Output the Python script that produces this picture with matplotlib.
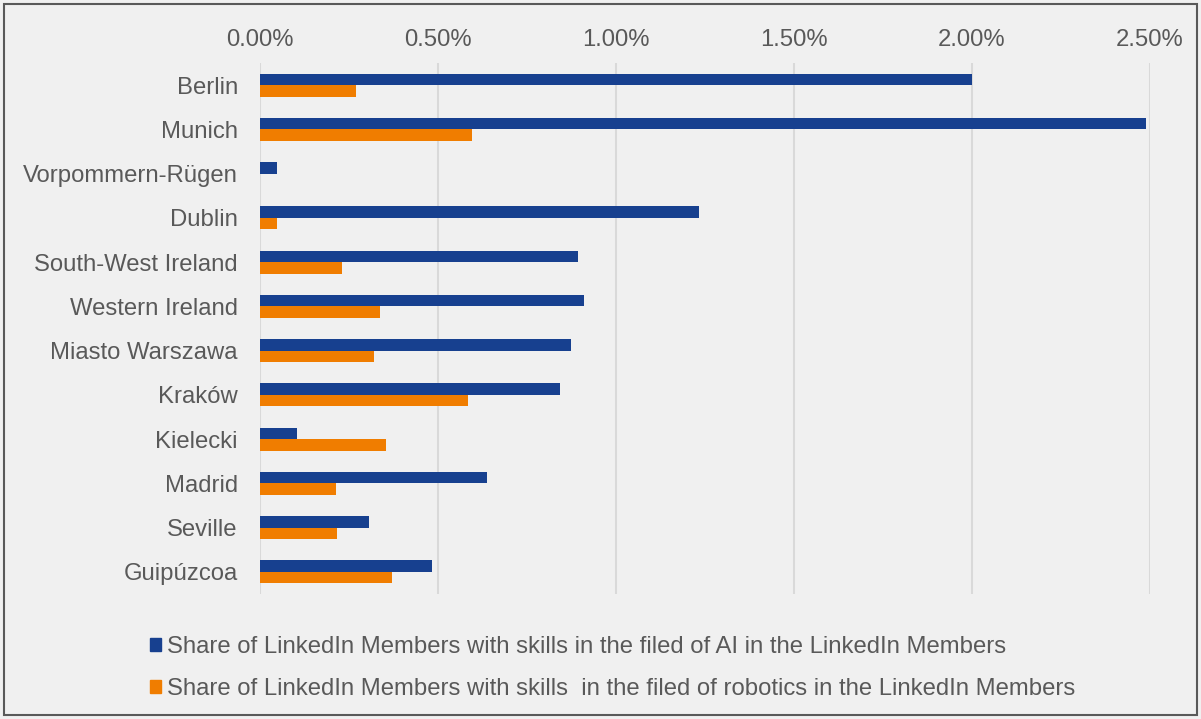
import matplotlib.pyplot as plt
import matplotlib.patches as mpatches
from matplotlib.ticker import FuncFormatter
import numpy as np

plt.rcParams['font.family'] = ['Liberation Sans', 'DejaVu Sans']

regions = ['Berlin', 'Munich', 'Vorpommern-Rügen', 'Dublin', 'South-West Ireland',
           'Western Ireland', 'Miasto Warszawa', 'Kraków', 'Kielecki', 'Madrid',
           'Seville', 'Guipúzcoa']
ai_share = [2.00, 2.49, 0.048, 1.233, 0.893, 0.91, 0.874, 0.843, 0.104, 0.638, 0.306, 0.483]
robotics_share = [0.27, 0.595, 0.0, 0.048, 0.23, 0.337, 0.32, 0.584, 0.354, 0.213, 0.216, 0.371]
ticks = [0.0, 0.5, 1.0, 1.5, 2.0, 2.5]

label_ai = 'Share of LinkedIn Members with skills in the filed of AI in the LinkedIn Members'
label_rob = 'Share of LinkedIn Members with skills  in the filed of robotics in the LinkedIn Members'

blue = '#17408F'
orange = '#F07D00'
txt = '#595959'
bg = '#F0F0F0'
fs = 17.2

fig = plt.figure(figsize=(12.01, 7.19), dpi=100, facecolor=bg)
ax = fig.add_axes([260 / 1201, 1 - 594 / 719, 890 / 1201, 531 / 719])
ax.set_facecolor(bg)

y = np.arange(len(regions))
h = 0.26
ax.barh(y - h / 2, ai_share, height=h, color=blue, zorder=3)
ax.barh(y + h / 2, robotics_share, height=h, color=orange, zorder=3)

ax.set_xlim(0, 2.5)
ax.set_ylim(len(regions) - 0.5, -0.5)
ax.set_xticks(ticks)
ax.xaxis.set_major_formatter(FuncFormatter(lambda v, p: f'{v:.2f}%'))
ax.xaxis.tick_top()
ax.set_yticks(y)
ax.set_yticklabels(regions)
ax.tick_params(axis='both', length=0, labelsize=fs, colors=txt)
ax.tick_params(axis='x', pad=8.7)
ax.tick_params(axis='y', pad=16)
ax.grid(axis='x', color='#D9D9D9', lw=1.5, zorder=0)
for s in ax.spines.values():
    s.set_visible(False)

handles = [mpatches.Patch(color=blue, label=label_ai),
           mpatches.Patch(color=orange, label=label_rob)]
fig.legend(handles=handles, loc='upper left', bbox_to_anchor=(150 / 1201, 1 - 636 / 719),
           frameon=False, fontsize=fs, labelcolor=txt, handlelength=0.46, handleheight=0.46,
           handletextpad=0.25, labelspacing=0.83, borderaxespad=0, borderpad=0)

fig.patches.append(mpatches.Rectangle((4 / 1201, 4 / 719), 1193 / 1201, 711 / 719,
                                      transform=fig.transFigure, fill=False,
                                      edgecolor='#595959', lw=1.5))

fig.savefig('out.png', dpi=100, facecolor=bg)
